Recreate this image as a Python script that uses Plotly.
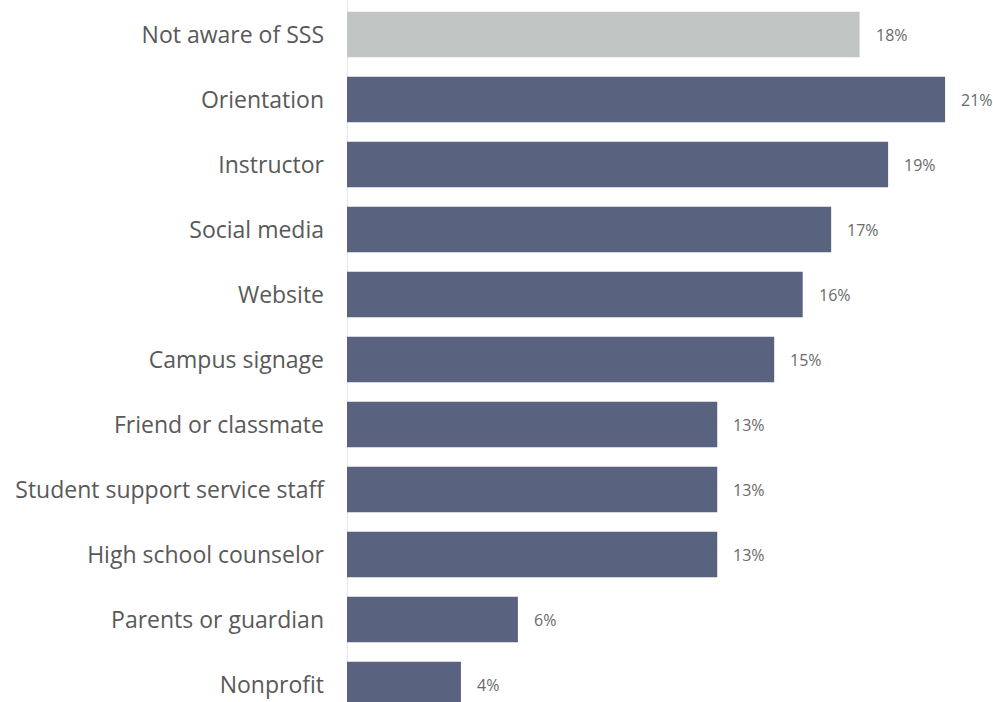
import plotly.graph_objects as go

categories = ["Not aware of SSS", "Orientation", "Instructor", "Social media", "Website",
              "Campus signage", "Friend or classmate", "Student support service staff",
              "High school counselor", "Parents or guardian", "Nonprofit"]
values = [18, 21, 19, 17, 16, 15, 13, 13, 13, 6, 4]
bar_colors = ["#C1C6C5"] + ["#59627E"] * 10
value_labels = [f"{v}%" for v in values]

fig = go.Figure()
fig.add_trace(go.Bar(
    x=values, y=categories, orientation="h",
    marker=dict(color=bar_colors, line=dict(width=0)),
    hoverinfo="skip",
))
for c, v, t in zip(categories, values, value_labels):
    fig.add_annotation(x=v, y=c, text=t, showarrow=False, xanchor="left",
                       xshift=14, font=dict(family="Open Sans", size=16, color="#6A6A6A"))

fig.update_layout(
    width=993, height=702,
    margin=dict(l=347, r=0, t=0, b=0),
    paper_bgcolor="white", plot_bgcolor="white",
    bargap=0.3,
    showlegend=False,
    font=dict(family="Open Sans", color="#555555"),
)
fig.update_xaxes(range=[0, 646 / 28.48], showgrid=False, showticklabels=False,
                 zeroline=True, zerolinecolor="#E6E6E6", zerolinewidth=1)
fig.update_yaxes(categoryorder="array", categoryarray=categories,
                 range=[10.269, -0.531], showgrid=False, zeroline=False,
                 tickfont=dict(family="Open Sans", size=23, color="#595959"),
                 ticks="", ticklabelstandoff=22)
fig.write_html("out.html")
